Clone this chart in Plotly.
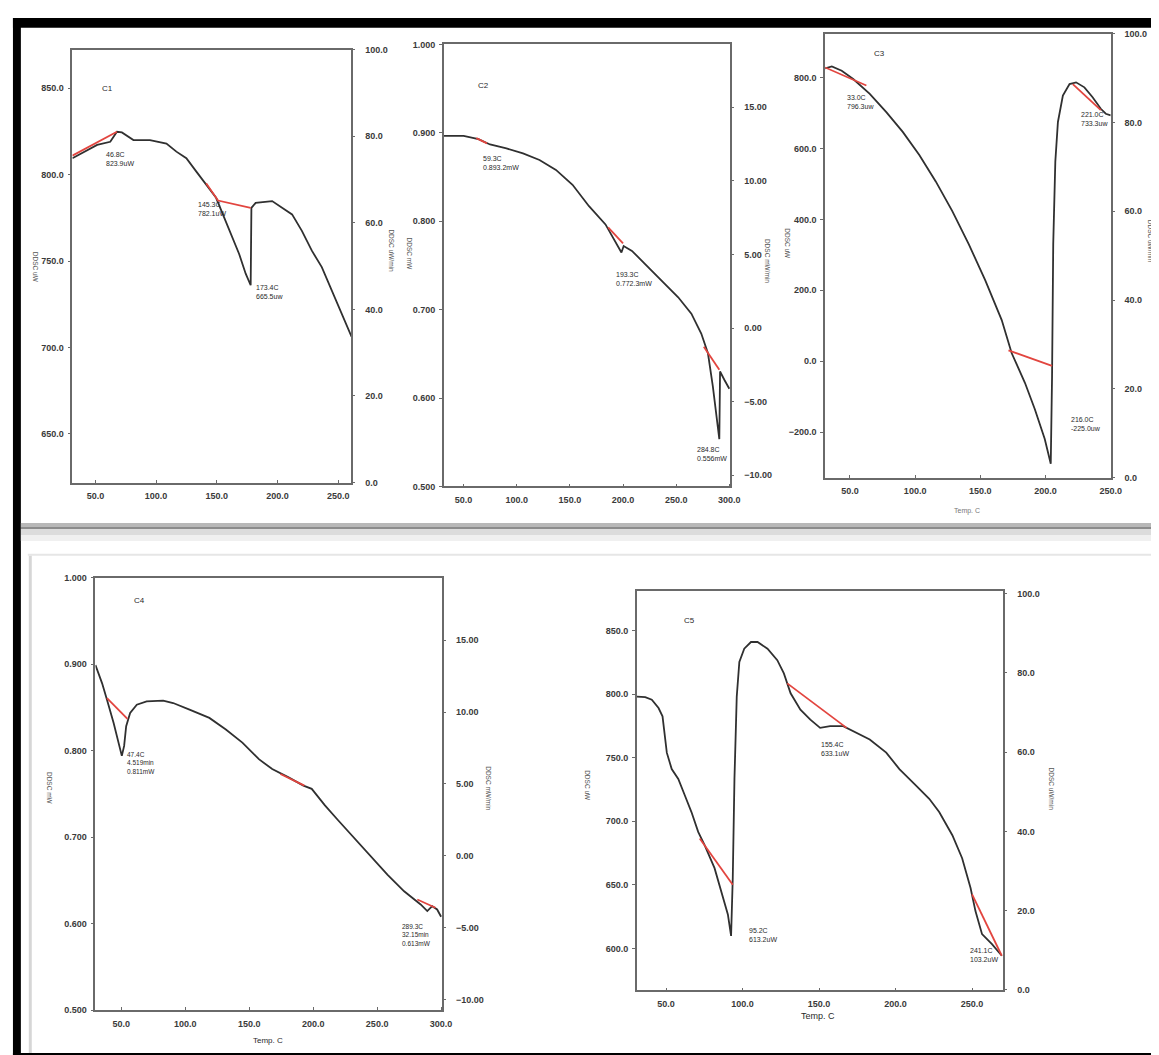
import plotly.graph_objects as go

W, H = 1159, 1055

# ---------------- data ----------------
# C1
c1_x = [31, 40.5, 51.4, 62.2, 67.7, 71.8, 81.3, 94.9, 108.5, 116.7, 124.9, 133, 141.2, 149.4, 156.1,
        163, 168.4, 173.8, 177.9, 178.5, 182, 195.6, 203.8, 212, 220.1, 228.3, 236.5, 244.6, 252.8, 261]
c1_y = [809.5, 813.3, 817.2, 819, 824.8, 824.4, 820, 820, 818, 813.3, 809.5, 801.9, 794.2, 786.6, 775.1,
        763.6, 754.1, 742.7, 736, 780.8, 783.7, 784.7, 780.8, 777, 767.5, 756, 746.5, 733.1, 719.7, 706.3]
c1_red = [([31, 67.7], [811, 824.8]), ([141.2, 151, 177.9], [795, 785, 780.8])]
c1_right_ticks = [0, 20, 40, 60, 80, 100]
c1_left_ticks = [650, 700, 750, 800, 850]

# C2
c2_x = [31.4, 50, 64, 74.9, 90.3, 105.9, 121.4, 136.9, 152.5, 168, 183.5, 192.8, 198.5, 200.6, 208.4,
        220.8, 236.3, 251.9, 264.3, 273.6, 279.9, 284.5, 290.6, 291.3, 295.3, 300]
c2_y = [0.8965, 0.8965, 0.8928, 0.8868, 0.8823, 0.8767, 0.8693, 0.858, 0.8412, 0.817, 0.7964, 0.7777,
        0.7646, 0.772, 0.7665, 0.7515, 0.733, 0.714, 0.6955, 0.673, 0.6506, 0.6132, 0.5535, 0.63,
        0.6207, 0.6105]
c2_red = [([62, 72], [0.894, 0.888]), ([186, 200], [0.793, 0.775]), ([276, 290.6], [0.658, 0.632])]
c2_left_ticks = [0.5, 0.6, 0.7, 0.8, 0.9, 1.0]
c2_right_ticks = [-10, -5, 0, 5, 10, 15]

# C3
c3_x = [31, 36.1, 43.7, 52.5, 65.2, 77.9, 90.5, 103.2, 115.8, 128.5, 141.1, 153.8, 166.4, 174, 184.2,
        191.8, 199.4, 204, 205, 205.9, 207.5, 209.5, 213.3, 218.4, 223.4, 229.8, 236.1, 242.4, 246.2, 250]
c3_y = [825, 830.7, 818.6, 795.3, 753.5, 702.3, 646.5, 581.5, 506.9, 423.2, 330.3, 227.9, 116.2, 23.3,
        -60.4, -135, -218.7, -288.5, -42, 330.3, 562.8, 674.4, 748.9, 781.3, 786, 772, 744.2, 711.5,
        697.6, 693]
c3_red = [([31, 62.6], [828, 777]), ([171.6, 205], [31, -13]), ([220.9, 242.4], [781, 708])]
c3_left_ticks = [-200, 0, 200, 400, 600, 800]
c3_right_ticks = [0, 20, 40, 60, 80, 100]

# C4
c4_x = [29.9, 35.1, 38.9, 44.1, 50.5, 52.3, 53.9, 57, 62.2, 69.9, 82.8, 90.6, 103.4, 118.9, 131.8,
        144.7, 157.6, 168, 180.8, 192.4, 198.9, 209.2, 219.5, 232.4, 245.3, 258.2, 271.1, 284, 289.2,
        293, 296.9, 300]
c4_y = [0.8989, 0.8778, 0.8588, 0.832, 0.7939, 0.8054, 0.8283, 0.8435, 0.8531, 0.8569, 0.8577, 0.855,
        0.8474, 0.8378, 0.8244, 0.8092, 0.7901, 0.7787, 0.7691, 0.7596, 0.7558, 0.7367, 0.7195,
        0.6985, 0.6775, 0.6565, 0.6374, 0.6222, 0.6145, 0.6202, 0.6164, 0.608]
c4_red = [([38.9, 54.9], [0.8607, 0.8366]), ([174.4, 193.2], [0.773, 0.7596]),
          ([281.4, 295.6], [0.6279, 0.6184])]
c4_left_ticks = [0.5, 0.6, 0.7, 0.8, 0.9, 1.0]
c4_right_ticks = [-10, -5, 0, 5, 10, 15]

# C5
c5_x = [31, 36.4, 40.7, 45.1, 47.7, 49, 50.5, 53.7, 58, 62.3, 66.6, 71, 75.2, 81.7, 86, 90.4, 92.5,
        93.6, 94.7, 96.2, 97.9, 101.1, 105.5, 109.8, 116.3, 122.7, 127, 131.4, 137.8, 144.3, 150.7,
        157.2, 165.8, 174.5, 183.1, 193.9, 202.5, 213.4, 222, 228.5, 237.1, 243.5, 249, 252.2, 256.5,
        263, 269.4]
c5_y = [798, 797.5, 795.5, 789, 782.5, 769.5, 753.9, 741, 733.2, 720.2, 707.2, 691.6, 681.2, 663.1,
        644.9, 626.7, 609.8, 655.3, 733.2, 798, 825.3, 835.7, 840.9, 840.9, 835.7, 826.6, 816.2, 800.6,
        787.7, 779.9, 773.4, 774.7, 774.7, 769.5, 764.3, 753.9, 741, 728, 717.6, 707.2, 689, 670.9,
        647.5, 629.3, 611.2, 603.3, 594.2]
c5_red = [([72, 93.6], [686.4, 650]), ([129.2, 168], [808.4, 773.4]), ([250, 269.4], [642.4, 594.2])]
c5_left_ticks = [600, 650, 700, 750, 800, 850]
c5_right_ticks = [0, 20, 40, 60, 80, 100]

x_ticks_250 = [50, 100, 150, 200, 250]
x_ticks_300 = [50, 100, 150, 200, 250, 300]

# ---------------- helpers ----------------
def px(x):
    return x / W

def py(y):
    return 1 - y / H

TICKFONT = dict(family="Liberation Sans", size=9, color="#3a3a3a", weight="bold")
LINE = "#6a6a6a"
CURVE = "#303030"
RED = "#e2453f"

panels = [
    # (xdata, ydata, reds, box(px x0,x1,y0,y1), xrange, xticks, lrange, lticks, lfmt, rrange, rticks, rfmt)
    (c1_x, c1_y, c1_red, (65, 346.7, 37, 474), [31, 260.9], x_ticks_250,
     [621.9, 872.3], c1_left_ticks, ".1f", [0, 100], c1_right_ticks, ".1f"),
    (c2_x, c2_y, c2_red, (440, 729.3, 31.7, 478), [31.4, 301], x_ticks_300,
     [0.5, 1.0], c2_left_ticks, ".3f", [-10.76, 19.26], c2_right_ticks, ".2f"),
    (c3_x, c3_y, c3_red, (825, 1113.3, 21, 469), [31, 250], x_ticks_250,
     [-327.5, 922.8], c3_left_ticks, ".1f", [0, 100], c3_right_ticks, ".1f"),
    (c4_x, c4_y, c4_red, (88.3, 438.3, 570, 1006.7), [29.9, 300.8], x_ticks_300,
     [0.5, 1.0], c4_left_ticks, ".3f", [-10.74, 19.36], c4_right_ticks, ".2f"),
    (c5_x, c5_y, c5_red, (635, 1005, 583.3, 986.7), [31, 270.5], x_ticks_250,
     [567, 881.2], c5_left_ticks, ".1f", [-0.1, 100.7], c5_right_ticks, ".1f"),
]

fig = go.Figure()
layout = {}
for i, (xd, yd, reds, box, xr, xt, lr, lt, lf, rr, rt, rf) in enumerate(panels, start=1):
    xn = "x" if i == 1 else f"x{i}"
    yl = 2 * i - 1
    yr = 2 * i
    yln = "y" if yl == 1 else f"y{yl}"
    yrn = f"y{yr}"
    x0, x1, y0, y1 = box
    xkey = "xaxis" if i == 1 else f"xaxis{i}"
    ylkey = "yaxis" if yl == 1 else f"yaxis{yl}"
    yrkey = f"yaxis{yr}"
    layout[xkey] = dict(domain=[px(x0), px(x1)], anchor=yln, range=xr, tickvals=xt, tickformat=".1f",
                        showline=True, mirror=True, linecolor=LINE, linewidth=1.6, ticks="inside",
                        ticklen=3, tickcolor=LINE, showgrid=False, zeroline=False, tickfont=TICKFONT,
                        ticklabelstandoff=4)
    layout[ylkey] = dict(domain=[py(y1), py(y0)], anchor=xn, range=lr, tickvals=lt, tickformat=lf,
                         showline=True, mirror=True, linecolor=LINE, linewidth=1.6, ticks="outside",
                         ticklen=3, tickcolor=LINE, showgrid=False, zeroline=False, tickfont=TICKFONT,
                         ticklabelstandoff=2)
    layout[yrkey] = dict(domain=[py(y1), py(y0)], anchor=xn, overlaying=yln, side="right", range=rr,
                         tickvals=rt, tickformat=rf, showline=False, ticks="outside", ticklen=3,
                         tickcolor=LINE, showgrid=False, zeroline=False, tickfont=TICKFONT,
                         ticklabelstandoff=8)
    fig.add_trace(go.Scatter(x=xd, y=yd, mode="lines", line=dict(color=CURVE, width=1.8),
                             xaxis=xn, yaxis=yln, showlegend=False, hoverinfo="skip"))
    for rx, ry in reds:
        fig.add_trace(go.Scatter(x=rx, y=ry, mode="lines", line=dict(color=RED, width=1.8),
                                 xaxis=xn, yaxis=yln, showlegend=False, hoverinfo="skip"))
    # invisible carrier trace so the right-hand axis gets drawn
    fig.add_trace(go.Scatter(x=[xd[0]] * len(rt), y=rt, mode="markers", marker=dict(opacity=0, size=1),
                             xaxis=xn, yaxis=yrn, showlegend=False, hoverinfo="skip"))

# ---------------- annotations ----------------
ann = []
def note(xp, yp, text, size=7, angle=0, xanchor="left", yanchor="top", color="#2a2a2a"):
    ann.append(dict(x=px(xp), y=py(yp), xref="paper", yref="paper", text=text, showarrow=False,
                    xanchor=xanchor, yanchor=yanchor, textangle=angle, align="left",
                    font=dict(family="Liberation Sans Narrow, Liberation Sans", size=size, color=color)))

# panel names
note(93, 70, "C1", 8)
note(472, 67, "C2", 8)
note(872, 34, "C3", 8)
note(125, 587, "C4", 8)
note(680, 607, "C5", 8)

# peak labels
note(97, 137, "46.8C<br>823.9uW")
note(190, 188, "145.3C<br>782.1uW")
note(248, 272, "173.4C<br>665.5uw")
note(478, 141, "59.3C<br>0.893.2mW")
note(612, 258, "193.3C<br>0.772.3mW")
note(694, 435, "284.8C<br>0.556mW")
note(845, 80, "33.0C<br>796.3uw")
note(1081, 97, "221.0C<br>733.3uw")
note(1071, 405, "216.0C<br>-225.0uw")
note(118, 743, "47.4C<br>4.519min<br>0.811mW", 6.5)
note(396, 917, "289.3C<br>32.15min<br>0.613mW", 6.5)
note(746, 921, "95.2C<br>613.2uW")
note(819, 733, "155.4C<br>633.1uW")
note(969, 941, "241.1C<br>103.2uW")

# axis titles
note(262, 1037, "Temp. C", 8, xanchor="center", yanchor="middle")
note(818, 1013, "Temp. C", 9, xanchor="center", yanchor="middle")
note(968, 503, "Temp. C", 7, xanchor="center", yanchor="middle", color="#777")
for (xx, yy, t) in [(28, 257, "DDSC uW"), (387, 240, "DDSC uW/min"),
                    (767, 250, "DDSC mW/min"), (787, 233, "DDSC uW"),
                    (1153, 230, "DDSC uW/min"), (42, 783, "DDSC mW"), (485, 783, "DDSC mW/min"),
                    (585, 780, "DDSC uW"), (1053, 783, "DDSC uW/min"), (405, 243, "DDSC mW")]:
    note(xx, yy, t, 6.5, angle=90, xanchor="center", yanchor="middle", color="#555")

# ---------------- frame shapes ----------------
shapes = []
def rect(x0, y0, x1, y1, color):
    shapes.append(dict(type="rect", xref="paper", yref="paper", x0=px(x0), x1=px(x1), y0=py(y1), y1=py(y0),
                       fillcolor=color, line=dict(width=0), layer="below"))

rect(5, 5, 1159, 15, "#000")        # top black bar
rect(5, 5, 13, 1055, "#000")        # left black bar
rect(5, 1050, 1159, 1055, "#000")   # bottom black bar
rect(13, 515, 1159, 519, "#b8b8b8") # separator
rect(13, 519, 1159, 521, "#8c8c8c")
rect(13, 521, 1159, 527, "#dcdcdc")
rect(13, 527, 1159, 533, "#f0f0f0")
rect(20, 546, 1159, 548, "#e6e6e6") # lower image top edge
rect(21, 548, 24, 1050, "#d6d6d6")  # lower image left edge

fig.update_layout(layout)
fig.update_layout(width=W, height=H, margin=dict(l=0, r=0, t=0, b=0), paper_bgcolor="white",
                  plot_bgcolor="rgba(0,0,0,0)", annotations=ann, shapes=shapes, showlegend=False)
fig.write_html("out.html")
